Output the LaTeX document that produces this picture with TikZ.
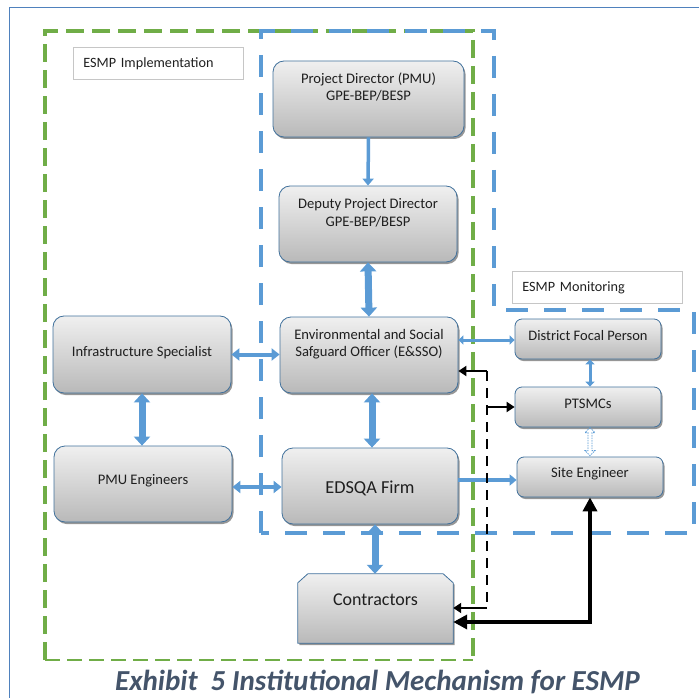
\documentclass[tikz,border=0pt]{standalone}
\usepackage{fontspec}
\setmainfont{Carlito}
\usetikzlibrary{arrows.meta,shadows}
\definecolor{blueA}{HTML}{5B9BD5}
\definecolor{greenA}{HTML}{70AD47}
\definecolor{nodeborder}{HTML}{41719C}
\definecolor{capcol}{HTML}{44546A}
\definecolor{framec}{HTML}{4F81BD}
\tikzset{
  boxlook/.style={draw=nodeborder, line width=0.8pt,
    top color=gray!12, middle color=white, bottom color=gray!55,
    drop shadow={shadow xshift=1.5pt, shadow yshift=-2pt, opacity=0.55, fill=black!75}},
  box/.style={boxlook, rounded corners=11pt, inner sep=0pt},
  smallbox/.style={box, rounded corners=7pt},
  txt/.style={align=center, font=\fontsize{14.6}{17.5}\selectfont, text=black!88, inner sep=0pt},
  lblbox/.style={draw=gray!45, line width=0.8pt, anchor=north west, minimum height=32pt,
    text width=150pt, inner xsep=10pt, align=left, font=\fontsize{14.2}{16}\selectfont, text=black!88},
  greendash/.style={draw=greenA, line width=4pt, dash pattern=on 18pt off 8pt},
  greenthin/.style={draw=greenA, line width=1.6pt, dash pattern=on 15pt off 7pt},
  bluedash/.style={draw=blueA, line width=4.5pt, dash pattern=on 22pt off 16pt},
  bthin/.style={draw=blueA, line width=3.5pt, -{Triangle[width=11pt,length=7pt]}},
  bthindbl/.style={draw=blueA, line width=4pt, {Triangle[width=12pt,length=8pt]}-{Triangle[width=12pt,length=8pt]}},
  bsmalldbl/.style={draw=blueA, line width=3pt, {Triangle[width=9pt,length=5pt]}-{Triangle[width=9pt,length=5pt]}},
  bthick/.style={draw=blueA, line width=7pt, {Triangle[width=16pt,length=9pt]}-{Triangle[width=16pt,length=9pt]}},
  blkthin/.style={draw=black, line width=2.4pt},
  blktip/.style={-{Triangle[width=10pt,length=8pt]}},
  blkthick/.style={draw=black, line width=4.2pt, {Triangle[width=14pt,length=14pt]}-{Triangle[width=14pt,length=14pt]}},
}
\begin{document}
\begin{tikzpicture}[x=1pt,y=-1pt]
\useasboundingbox (0,0) rectangle (699,698);
% outer frame
\draw[framec, line width=0.9pt] (9,698) -- (9,7) -- (699,7);
% dashed regions
\draw[greendash] (45,660) -- (45,31) -- (473,31) -- (473,660);
\draw[greenthin] (45,660) -- (473,660);
\draw[bluedash] (261,533) -- (261,31) -- (494,31) -- (494,310) -- (694,310) -- (694,533) -- cycle;
% labels
\node[lblbox] (impl) at (73,47) {ESMP Implementation};
\node[lblbox] (mon) at (512,271) {ESMP Monitoring};
% boxes
\node[box, minimum width=191pt, minimum height=76pt] (pd) at (368.5,99) {};
\node[txt] (pdt) at (368.5,87) {Project Director (PMU)\\GPE-BEP/BESP};
\node[box, minimum width=178pt, minimum height=76pt] (dpd) at (368,224) {};
\node[txt] (dpdt) at (368,213) {Deputy Project Director\\GPE-BEP/BESP};
\node[box, minimum width=178pt, minimum height=76pt] (esso) at (369,355) {};
\node[txt] (essot) at (369,344) {Environmental and Social\\Safguard Officer (E\&SSO)};
\node[box, minimum width=178pt, minimum height=77pt] (infra) at (142,354.5) {};
\node[txt] (infrat) at (142,353) {Infrastructure Specialist};
\node[box, minimum width=178pt, minimum height=76pt] (pmue) at (143,484) {};
\node[txt] (pmuet) at (143,481) {PMU Engineers};
\node[box, minimum width=176pt, minimum height=76pt] (edsqa) at (370,486) {};
\node[txt, font=\fontsize{18.3}{21}\selectfont] (edsqat) at (370,488) {EDSQA Firm};
\node[minimum width=155pt, minimum height=69pt, inner sep=0pt] (contr) at (375.5,608.5) {};
\draw[boxlook] (contr.south west) -- ([yshift=-9pt]contr.north west) -- ([xshift=10pt]contr.north west)
  -- ([xshift=-10pt]contr.north east) -- ([yshift=-9pt]contr.north east) -- (contr.south east) -- cycle;
\node[txt, font=\fontsize{18}{21}\selectfont] (contrt) at (375.5,600) {Contractors};
\node[smallbox, minimum width=146pt, minimum height=40pt] (dfp) at (588,339) {};
\node[txt, font=\fontsize{14.5}{17}\selectfont] (dfpt) at (588,335.5) {District Focal Person};
\node[smallbox, minimum width=146pt, minimum height=40pt] (ptsmc) at (588,407) {};
\node[txt] (ptsmct) at (588,404) {PTSMCs};
\node[smallbox, minimum width=146pt, minimum height=40pt] (site) at (590,477) {};
\node[txt] (sitet) at (590,474) {Site Engineer};
% blue connectors
\draw[bthin] (pd.south) -- (dpd.north);
\draw[bthick] (dpd.south) -- (esso.north);
\draw[bthindbl] (infra.east) -- (esso.west |- infra.east);
\draw[bthick] (infra.south) -- (infra.south |- pmue.north);
\draw[bthindbl] (pmue.east |- 0,487) -- (edsqa.west |- 0,487);
\draw[bthick] (esso.south -| 372,0) -- (edsqa.north -| 372,0);
\draw[bthick] (edsqa.south -| 375,0) -- (contr.north -| 375,0);
\draw[bsmalldbl] (esso.east |- 0,340) -- (dfp.west |- 0,340);
\draw[bsmalldbl] (dfp.south -| 590,0) -- (ptsmc.north -| 590,0);
% hollow dotted double arrow between PTSMCs and Site Engineer
\draw[shift={(site.north)}, draw=blueA, line width=0.8pt, dash pattern=on 1.5pt off 1pt]
  (0,-29) -- (5,-24) -- (2,-24) -- (2,-6) -- (5,-6) -- (0,-1) -- (-5,-6) -- (-2,-6) -- (-2,-24) -- (-5,-24) -- cycle;
\draw[bthin] (edsqa.east |- 0,480) -- (site.west |- 0,480);
% black connectors
\coordinate (j1) at (487,371);
\coordinate (j2) at (487,608);
\coordinate (j3) at (590,622);
\draw[blkthin, blktip] (j1) -- (esso.east |- j1);
\draw[blkthin, dash pattern=on 10pt off 7pt] (j1) -- (j2);
\draw[blkthin, blktip] (j1 |- ptsmc.west) -- (ptsmc.west);
\draw[blkthin, blktip] (j2) -- (contr.east |- j2);
\draw[blkthick] (site.south) -- (j3) -- (contr.east |- j3);
% caption
\node[anchor=base west, inner sep=0pt, text=capcol, font=\fontsize{29}{32}\selectfont\bfseries\itshape] (cap) at (115,690) {Exhibit\ \ 5 Institutional Mechanism for ESMP};
\end{tikzpicture}
\end{document}
